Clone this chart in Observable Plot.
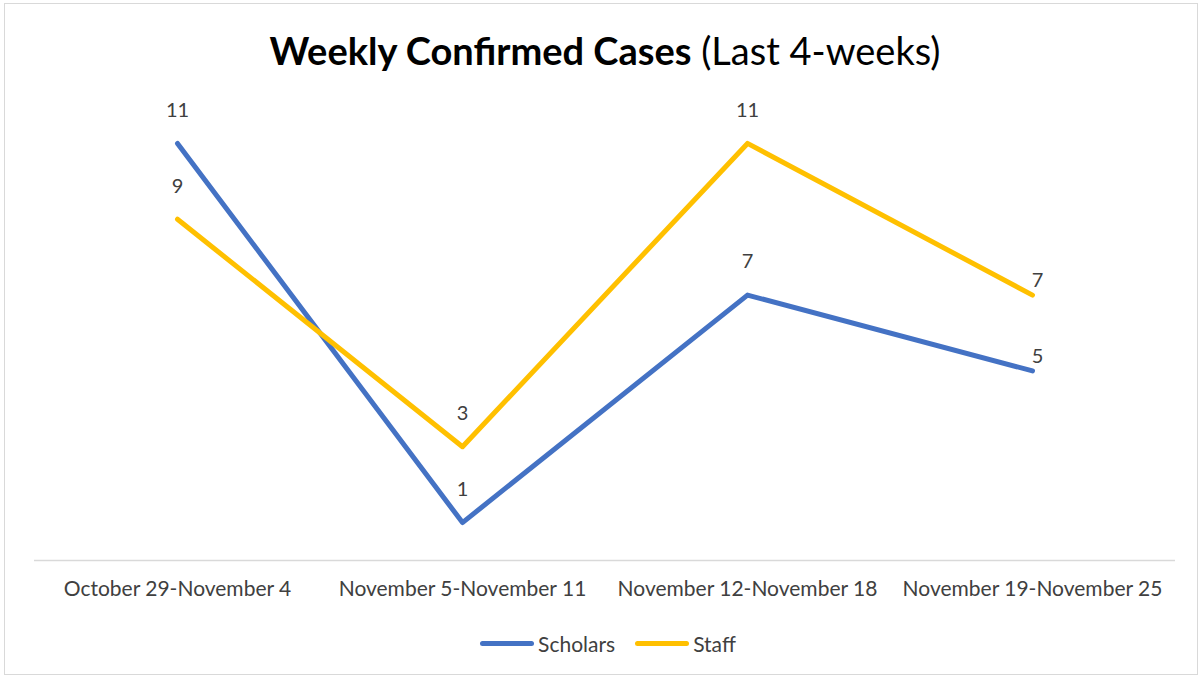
<!DOCTYPE html>
<html>
<head>
<meta charset="utf-8">
<script src="https://cdn.jsdelivr.net/npm/d3@7"></script>
<script src="https://cdn.jsdelivr.net/npm/@observablehq/plot@0.6"></script>
<style>
  html, body { margin: 0; padding: 0; background: #fff; }
  #wrap { position: relative; width: 1204px; height: 680px; overflow: hidden; font-family: Lato, "Open Sans", sans-serif; color: #404040; }
  #frame { position: absolute; left: 4px; top: 3px; width: 1194px; height: 672px; border: 1px solid #d9d9d9; box-sizing: border-box; pointer-events: none; }
  #title { position: absolute; left: 0; top: 0; width: 1204px; height: 80px; line-height: 100px; text-align: center; font-size: 38px; color: #000; padding-left: 6px; box-sizing: border-box; }
  #title b { font-weight: 700; }
  #chart { position: absolute; left: 0; top: 80px; }
  #legend { position: absolute; left: 0; top: 628px; width: 1204px; height: 30px; display: flex; justify-content: center; align-items: center; font-size: 21px; color: #404040; padding-left: 12px; box-sizing: border-box; }
  .item { display: flex; align-items: center; margin: 0 10px; }
  .sw { width: 54px; height: 5px; border-radius: 3px; margin-right: 4px; }
</style>
</head>
<body>
<div id="wrap">
  <div id="frame"></div>
  <div id="title"><b>Weekly Confirmed Cases</b> (Last 4-weeks)</div>
  <div id="chart"></div>
  <div id="legend"></div>
</div>
<script>
const weeks = ["October 29-November 4", "November 5-November 11", "November 12-November 18", "November 19-November 25"];
const seriesNames = ["Scholars", "Staff"];
const scholars = [11, 1, 7, 5];
const staff = [9, 3, 11, 7];
const colors = ["#4472C4", "#FFC000"];

const rows = [];
weeks.forEach((w, i) => {
  rows.push({week: w, series: "Scholars", value: scholars[i], idx: i});
  rows.push({week: w, series: "Staff", value: staff[i], idx: i});
});
const last = weeks.length - 1;

const chart = Plot.plot({
  width: 1204,
  height: 530,
  marginTop: 25,
  marginBottom: 50,
  marginLeft: 34,
  marginRight: 29,
  style: {fontFamily: "Lato, 'Open Sans', sans-serif", color: "#404040", background: "transparent"},
  x: {type: "point", domain: weeks, padding: 0.5},
  y: {domain: [0, 12], axis: null},
  color: {domain: seriesNames, range: colors},
  marks: [
    Plot.ruleY([0], {stroke: "#d9d9d9", strokeWidth: 1.5}),
    Plot.axisX({tickSize: 0, tickPadding: 21, fontSize: 21, fill: "#404040", label: null}),
    Plot.line(rows, {x: "week", y: "value", z: "series", stroke: "series", strokeWidth: 5, strokeLinecap: "round", strokeLinejoin: "round"}),
    Plot.text(rows.filter(d => d.idx !== last), {x: "week", y: "value", text: "value", dy: -33, fontSize: 20, fill: "#404040"}),
    Plot.text(rows.filter(d => d.idx === last), {x: "week", y: "value", text: "value", dy: -14, dx: 5, fontSize: 20, fill: "#404040"})
  ]
});
document.getElementById("chart").appendChild(chart);

const legend = document.getElementById("legend");
seriesNames.forEach((name, i) => {
  const item = document.createElement("div");
  item.className = "item";
  const sw = document.createElement("div");
  sw.className = "sw";
  sw.style.background = colors[i];
  const label = document.createElement("span");
  label.textContent = name;
  item.appendChild(sw);
  item.appendChild(label);
  legend.appendChild(item);
});
</script>
</body>
</html>
